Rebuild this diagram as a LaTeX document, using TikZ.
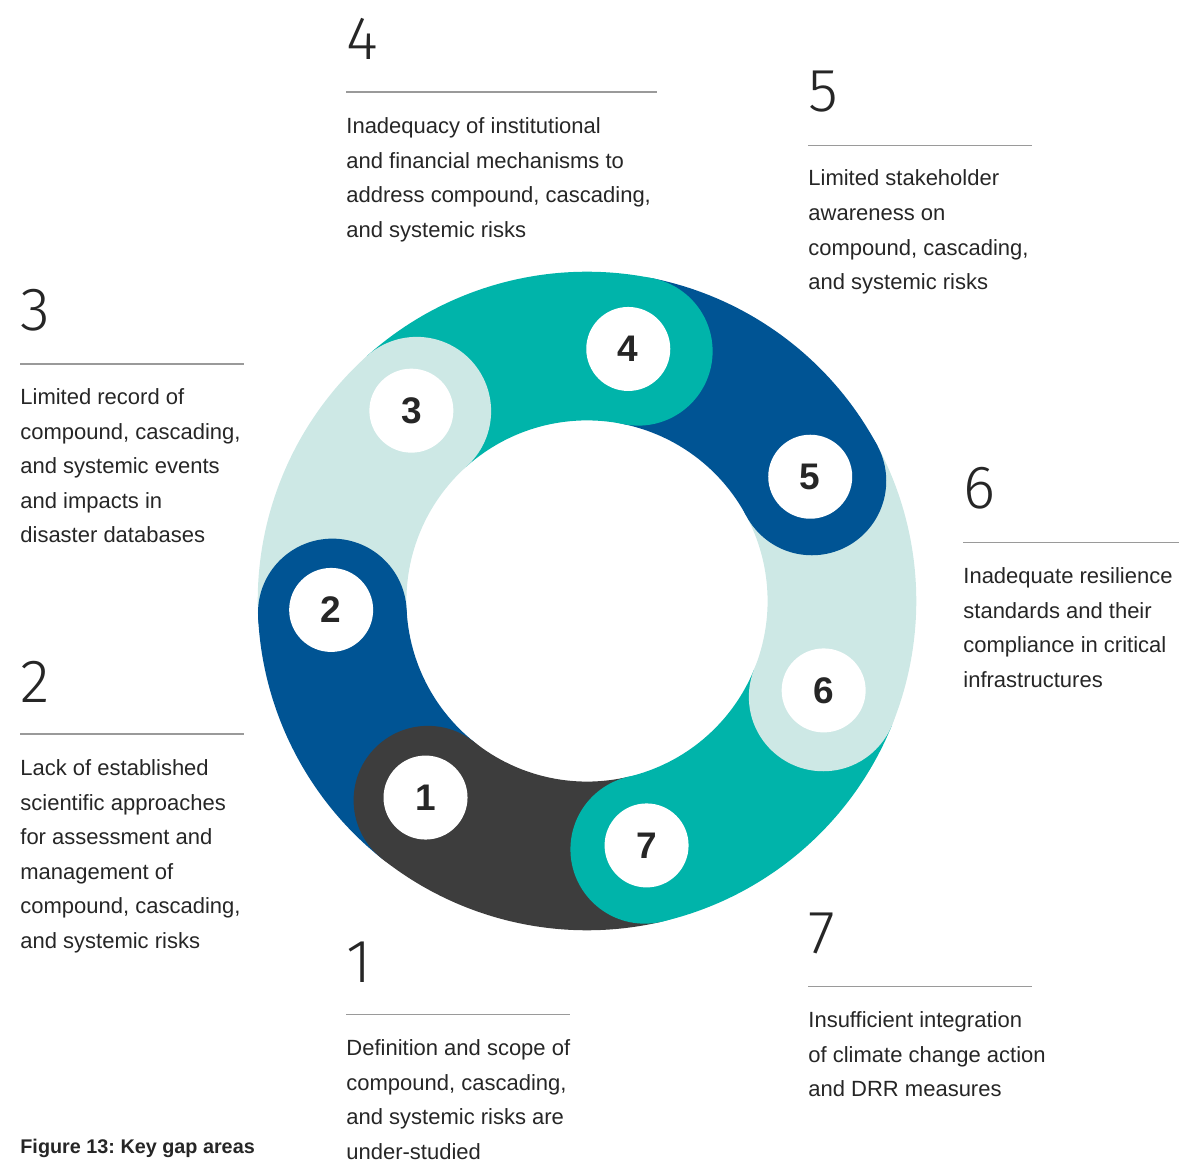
\documentclass[tikz,border=0pt]{standalone}
\usepackage{fontspec}
\setmainfont{Liberation Sans}
\newfontfamily\numfont{Fira Sans Light}
\usetikzlibrary{calc}
\frenchspacing

\definecolor{gapteal}{HTML}{00B4AA}
\definecolor{gapblue}{HTML}{005494}
\definecolor{gaplight}{HTML}{CDE8E5}
\definecolor{gapdark}{HTML}{3D3D3D}
\definecolor{gapink}{HTML}{262626}
\definecolor{gaprule}{HTML}{9A9A9A}

\tikzset{
  bignum/.style={anchor=base west, inner sep=0pt, text=gapink,
    font=\numfont\fontsize{30.5}{30.5}\selectfont},
  gapnote/.style={anchor=north west, inner sep=0pt, align=left, text=gapink,
    font=\fontsize{11}{17.3}\selectfont},
  sepline/.style={draw=gaprule, line width=0.6pt},
  dot/.style={circle, fill=white, minimum size=42pt, inner sep=0pt, text=gapink,
    font=\bfseries\fontsize{18.5}{18.5}\selectfont}
}

\begin{document}
\begin{tikzpicture}[x=0.5pt, y=0.5pt]
  \useasboundingbox (0,0) rectangle (1179,1162);
  \coordinate (c) at (587,561);

  % ring bodies, each from its own head to the next head
  \foreach \a/\b/\col in {231.4/283.1/gapdark, 182.7/231.4/gapblue, 131.9/182.7/gaplight,
      78.4/131.9/gapteal, 28.1/78.4/gapblue, -22.1/28.1/gaplight, -76.9/-22.1/gapteal}
    \fill[\col] ($(c)+(\a:329.3)$) arc[start angle=\a, end angle=\b, radius=329.3]
      -- ($(c)+(\b:180.6)$) arc[start angle=\b, end angle=\a, radius=180.6] -- cycle;

  % rounded heads and numbered dots
  \foreach \n/\a/\h/\r/\col in {1/230.6/231.4/254.4/gapdark, 2/182/182.7/256/gapblue,
      3/132.7/131.9/259/gaplight, 4/80.7/78.4/255.4/gapteal, 5/29.1/28.1/255.5/gapblue,
      6/-20.7/-22.1/253/gaplight, 7/-76.3/-76.9/251.6/gapteal} {
    \fill[\col] ($(c)+(\h:254.95)$) circle[radius=74.35];
    \node[dot] (g\n) at ($(c)+(\a:\r)$) {\n};
  }

  % 4
  \node[bignum] (n4) at (346,1102) {4};
  \draw[sepline] (346,1070) -- (657,1070);
  \node[gapnote] (t4) at (346,1053.2) {\strut Inadequacy of institutional\\and financial mechanisms to\\address compound, cascading,\\and systemic risks};

  % 5
  \node[bignum] (n5) at (808,1050.3) {5};
  \draw[sepline] (808,1016.3) -- (1032,1016.3);
  \node[gapnote] (t5) at (808,1000.7) {\strut Limited stakeholder\\awareness on\\compound, cascading,\\and systemic risks};

  % 3
  \node[bignum] (n3) at (20,831.3) {3};
  \draw[sepline] (20,798) -- (244,798);
  \node[gapnote] (t3) at (20,782.2) {\strut Limited record of\\compound, cascading,\\and systemic events\\and impacts in\\disaster databases};

  % 6
  \node[bignum] (n6) at (963,653.7) {6};
  \draw[sepline] (963,619.7) -- (1179,619.7);
  \node[gapnote] (t6) at (963,603.2) {\strut Inadequate resilience\\standards and their\\compliance in critical\\infrastructures};

  % 2
  \node[bignum] (n2) at (20,459.7) {2};
  \draw[sepline] (20,428) -- (244,428);
  \node[gapnote] (t2) at (20,411.2) {\strut Lack of established\\scientific approaches\\for assessment and\\management of\\compound, cascading,\\and systemic risks};

  % 1
  \node[bignum] (n1) at (346,179.7) {1};
  \draw[sepline] (346,147.7) -- (570,147.7);
  \node[gapnote] (t1) at (346,131.2) {\strut Definition and scope of\\compound, cascading,\\and systemic risks are\\under-studied};

  % 7
  \node[bignum] (n7) at (808,208.7) {7};
  \draw[sepline] (808,175.3) -- (1032,175.3);
  \node[gapnote] (t7) at (808,159.2) {\strut Insufficient integration\\of climate change action\\and DRR measures};

  % caption
  \node[anchor=base west, inner sep=0pt, text=gapink, font=\bfseries\fontsize{9.9}{12}\selectfont]
    (cap) at (20,8.7) {Figure 13: Key gap areas};
\end{tikzpicture}
\end{document}
